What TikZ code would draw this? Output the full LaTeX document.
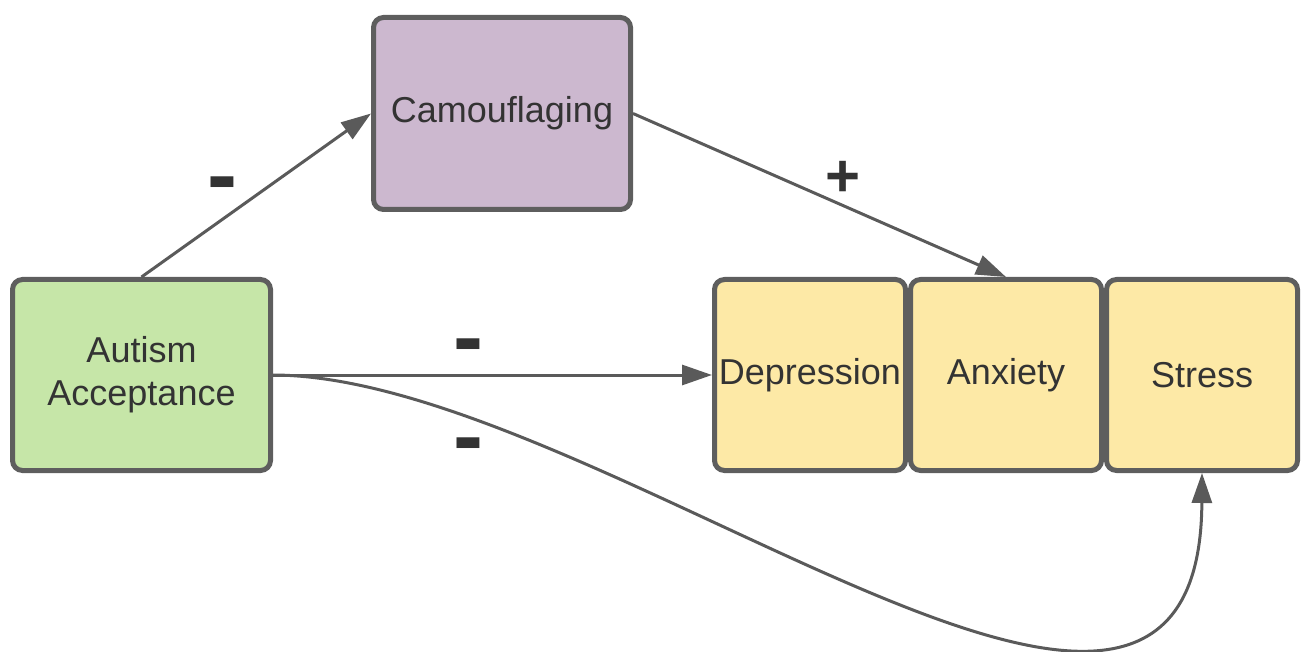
\documentclass[tikz,border=0pt]{standalone}
\usepackage{fontspec}
\setmainfont{Liberation Sans}
\usetikzlibrary{arrows.meta,positioning}
\definecolor{acceptGreen}{HTML}{C6E6A8}
\definecolor{camoPurple}{HTML}{CCB8CF}
\definecolor{outYellow}{HTML}{FDE9A6}
\definecolor{boxGray}{HTML}{5E5E5E}
\definecolor{lineGray}{HTML}{5A5A5A}
\definecolor{textGray}{HTML}{333333}
\tikzstyle{boxStyle}=[draw = boxGray, line width = 5pt, rounded corners = 10pt, align = center, text = textGray, inner sep = 0pt, font = \fontsize{36}{43}\selectfont]
\tikzstyle{outStyle}=[boxStyle, fill = outYellow, minimum width = 191pt, minimum height = 191pt]
\tikzstyle{signStyle}=[text = textGray, inner sep = 0pt]

\begin{document}
\begin{tikzpicture}[x = 1pt, y = -1pt]
\tikzstyle{arrowStyle}=[draw = lineGray, line width = 3pt, -{Triangle[length = 30pt, width = 20pt]}]
\useasboundingbox (0,0) rectangle (1306,652);
\node[boxStyle, fill = acceptGreen, minimum width = 258pt, minimum height = 191pt] (accept) at (141.5,375) {Autism\\Acceptance};
\node[boxStyle, fill = camoPurple, minimum width = 257pt, minimum height = 192pt] (camo) at (502,113.5) {Camouflaging};
\node[outStyle] (depr) at (810,375) {Depression};
\node[outStyle, right = 0pt of depr] (anx) {Anxiety};
\node[outStyle, right = 0pt of anx] (stress) {Stress};
% signs
\node[signStyle, font = \bfseries\fontsize{90}{90}\selectfont] (sgnAC) at (222,191) {-};
\node[signStyle, font = \bfseries\fontsize{60}{60}\selectfont] (sgnCA) at (843,179) {+};
\node[signStyle, font = \bfseries\fontsize{90}{90}\selectfont] (sgnAD) at (468,353) {-};
\node[signStyle, font = \bfseries\fontsize{90}{90}\selectfont] (sgnAS) at (468,452) {-};
% paths
\draw[arrowStyle] (accept.north) -- (camo.west);
\draw[arrowStyle] (camo.east) -- (anx.north);
\draw[arrowStyle] (accept.east) -- (depr.west);
\draw[arrowStyle] (accept.east) .. controls (600,376) and (1200,900) .. (stress.south);
\end{tikzpicture}
\end{document}
